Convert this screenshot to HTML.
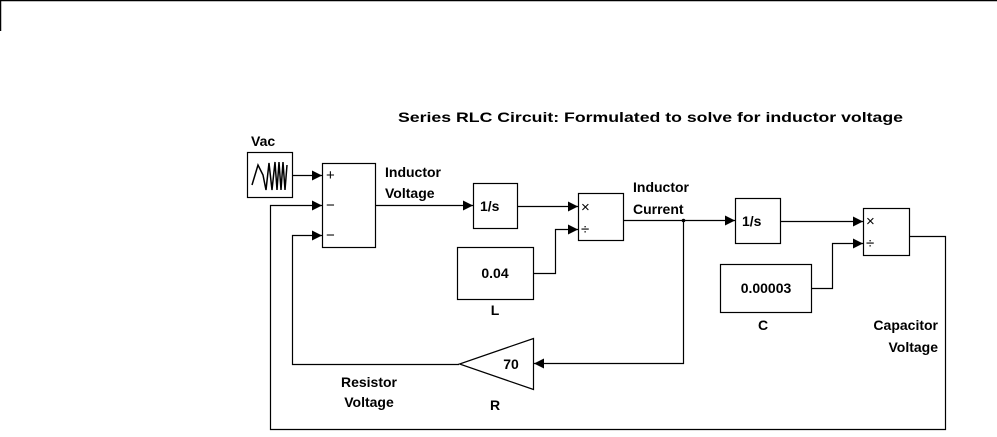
<!DOCTYPE html>
<html><head><style>
html,body{margin:0;padding:0;background:#fff;}
svg{display:block;}
text{font-family:"Liberation Sans",Arial,sans-serif;font-weight:bold;font-size:14px;fill:#000;}
.t{font-weight:normal;font-size:15px;}
</style></head><body>
<svg width="997" height="437" viewBox="0 0 997 437" xmlns="http://www.w3.org/2000/svg">
<defs>
<marker id="a" markerWidth="10" markerHeight="10" refX="10" refY="5" orient="auto" markerUnits="userSpaceOnUse">
<path d="M0,0 L10,5 L0,10 z" fill="#000"/></marker>
</defs>
<g fill="none" stroke="#000" stroke-width="1.2">
<line x1="0" y1="0.5" x2="997" y2="0.5" stroke-width="1.5"/>
<line x1="0.5" y1="0" x2="0.5" y2="31" stroke-width="1.5"/>
<rect x="247.5" y="152.5" width="45" height="45"/>
<rect x="322.5" y="163.5" width="53" height="84"/>
<rect x="473.5" y="183.5" width="44" height="45"/>
<rect x="578.5" y="193.5" width="45" height="47"/>
<rect x="457.5" y="247.5" width="76" height="52"/>
<rect x="735.5" y="198.5" width="45" height="45"/>
<rect x="863.5" y="208.5" width="46" height="47"/>
<rect x="720.5" y="264.5" width="91" height="48"/>
<polygon points="533.5,338.5 533.5,389.5 459.5,364"/>
<path d="M252,185 L258,165 L263,175 L266,190 L269,163 L272,190 L275,162 L277,190 L279,162 L281,190 L283,162 L285,190 L287,165" stroke-width="1.5"/>
<line x1="292" y1="175.5" x2="322" y2="175.5" marker-end="url(#a)"/>
<polyline points="375,205.5 473,205.5" marker-end="url(#a)"/>
<polyline points="517,206.5 578,206.5" marker-end="url(#a)"/>
<polyline points="533,273.5 555.5,273.5 555.5,229.5 578,229.5" marker-end="url(#a)"/>
<polyline points="623,220.5 735,220.5" marker-end="url(#a)"/>
<polyline points="683.5,220.5 683.5,363.5 534,363.5" marker-end="url(#a)"/>
<polyline points="459,364.5 292.5,364.5 292.5,235.5 322,235.5" marker-end="url(#a)"/>
<polyline points="780,221.5 863,221.5" marker-end="url(#a)"/>
<polyline points="811,288.5 832.5,288.5 832.5,243.5 863,243.5" marker-end="url(#a)"/>
<polyline points="909,236.5 945.5,236.5 945.5,429.5 270.5,429.5 270.5,205.5 322,205.5" marker-end="url(#a)"/>
</g>
<circle cx="683.5" cy="220.5" r="1.8" fill="#000"/>
<text x="326" y="180" class="t">+</text>
<text x="326" y="210" class="t">−</text>
<text x="326" y="240" class="t">−</text>
<text x="581" y="212" class="t">×</text>
<text x="581" y="234" class="t">÷</text>
<text x="866" y="226" class="t">×</text>
<text x="866" y="248" class="t">÷</text>
<text x="398" y="122" textLength="505" lengthAdjust="spacingAndGlyphs">Series RLC Circuit: Formulated to solve for inductor voltage</text>
<text x="251" y="146">Vac</text>
<text x="385" y="177">Inductor</text>
<text x="385" y="198">Voltage</text>
<text x="480" y="211">1/s</text>
<text x="742" y="226">1/s</text>
<text x="633" y="192">Inductor</text>
<text x="633" y="214">Current</text>
<text x="495" y="278" text-anchor="middle">0.04</text>
<text x="495" y="315" text-anchor="middle">L</text>
<text x="766" y="293" text-anchor="middle">0.00003</text>
<text x="763" y="330" text-anchor="middle">C</text>
<text x="511" y="369" text-anchor="middle">70</text>
<text x="369" y="387" text-anchor="middle">Resistor</text>
<text x="369" y="407" text-anchor="middle">Voltage</text>
<text x="495" y="410" text-anchor="middle">R</text>
<text x="938" y="330" text-anchor="end">Capacitor</text>
<text x="938" y="352" text-anchor="end">Voltage</text>
</svg>
</body></html>
